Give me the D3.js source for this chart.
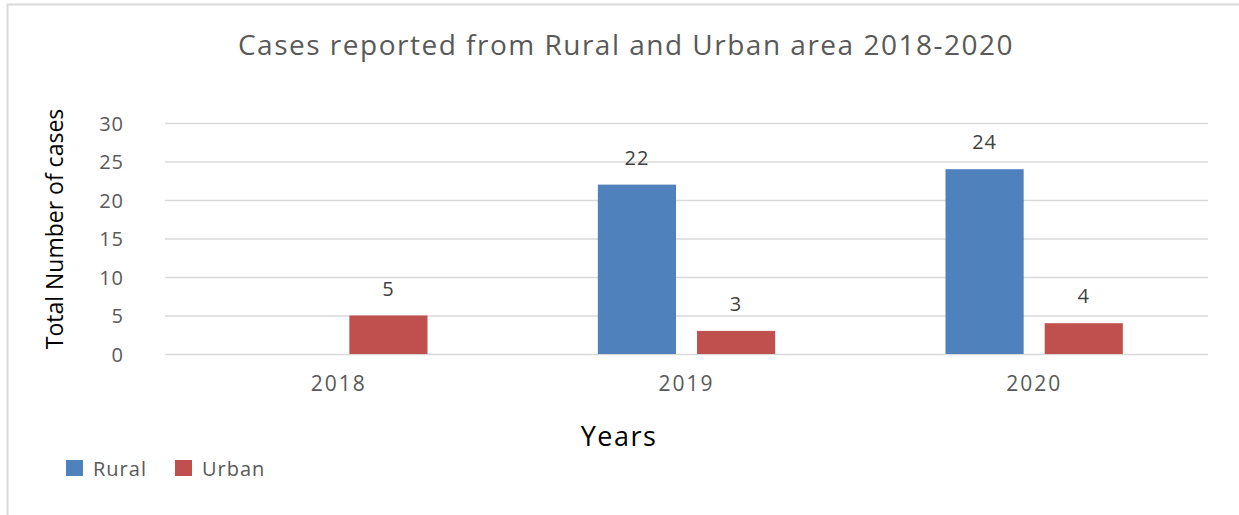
<!DOCTYPE html>
<html>
<head>
<meta charset="utf-8">
<script src="https://cdn.jsdelivr.net/npm/d3@7"></script>
<style>
  html, body { margin: 0; padding: 0; background: #fff; }
  svg { display: block; font-family: "Open Sans", "Noto Sans", sans-serif; }
  svg text { font-family: "Open Sans", "Noto Sans", sans-serif; }
</style>
</head>
<body>
<div id="chart"></div>
<script>
const years = ["2018", "2019", "2020"];
const seriesNames = ["Rural", "Urban"];
const rural = [0, 22, 24];
const urban = [5, 3, 4];
const yTicks = [0, 5, 10, 15, 20, 25, 30];

const colors = { Rural: "#4f81bd", Urban: "#c0504d" };

const width = 1239, height = 515;
const margin = { top: 123, right: 31, bottom: 161, left: 165 };
const innerWidth = width - margin.left - margin.right;
const innerHeight = height - margin.top - margin.bottom;

const rows = years.map((y, i) => ({ year: y, Rural: rural[i], Urban: urban[i] }));

const root = d3.select("#chart").append("svg")
    .attr("width", width).attr("height", height);

// frame (only top and left edges show in the picture)
root.append("line").attr("x1", 7).attr("x2", width).attr("y1", 4.5).attr("y2", 4.5)
    .attr("stroke", "#d9d9d9").attr("stroke-width", 2);
root.append("line").attr("x1", 7.5).attr("x2", 7.5).attr("y1", 4).attr("y2", height)
    .attr("stroke", "#d9d9d9").attr("stroke-width", 2);

const svg = root.append("g").attr("transform", `translate(${margin.left},${margin.top})`);

const x0 = d3.scaleBand().domain(years).range([0, innerWidth])
    .paddingInner(0.49).paddingOuter(0.245);
const x1 = d3.scaleBand().domain(seriesNames).range([0, x0.bandwidth()]).paddingInner(0.212);
const y = d3.scaleLinear().domain([0, 30]).range([innerHeight, 0]);

// Gridlines
svg.append("g")
    .call(d3.axisLeft(y).tickValues(yTicks).tickSize(-innerWidth).tickFormat(""))
    .call(g => g.select(".domain").remove())
    .call(g => g.selectAll("text").remove())
    .call(g => g.selectAll("line").attr("stroke", "#d9d9d9").attr("stroke-width", 1.6));

// Y tick labels
svg.append("g")
    .call(d3.axisLeft(y).tickValues(yTicks).tickSize(0).tickPadding(41))
    .call(g => g.select(".domain").remove())
    .call(g => g.selectAll("text").attr("fill", "#595959").style("font-size", "20px")
        .style("letter-spacing", "1px").attr("dy", "0.36em"));

// X tick labels
const xBand = d3.scaleBand().domain(years).range([0, innerWidth]);
svg.append("g").attr("transform", `translate(0,${innerHeight})`)
    .call(d3.axisBottom(xBand).tickSize(0).tickPadding(22))
    .call(g => g.select(".domain").remove())
    .call(g => g.selectAll("text").attr("fill", "#595959").style("font-size", "21px")
        .style("letter-spacing", "2px"));

// Bars
const groups = svg.selectAll(".year").data(rows).enter().append("g")
    .attr("transform", d => `translate(${x0(d.year)},0)`);

groups.selectAll("rect")
    .data(d => seriesNames.map(s => ({ key: s, value: d[s] })).filter(d => d.value > 0))
    .enter().append("rect")
    .attr("x", d => x1(d.key))
    .attr("y", d => y(d.value))
    .attr("width", x1.bandwidth())
    .attr("height", d => innerHeight - y(d.value))
    .attr("fill", d => colors[d.key]);

groups.selectAll(".val")
    .data(d => seriesNames.map(s => ({ key: s, value: d[s] })).filter(d => d.value > 0))
    .enter().append("text")
    .attr("x", d => x1(d.key) + x1.bandwidth() / 2)
    .attr("y", d => y(d.value) - 20)
    .attr("text-anchor", "middle")
    .attr("fill", "#404040")
    .style("font-size", "20px")
    .style("letter-spacing", "1px")
    .text(d => d.value);

// Titles
root.append("text")
    .attr("x", 626).attr("y", 55)
    .attr("text-anchor", "middle")
    .attr("fill", "#595959")
    .style("font-size", "28px")
    .style("letter-spacing", "1.5px")
    .text("Cases reported from Rural and Urban area 2018-2020");

root.append("text")
    .attr("transform", "translate(63,229) rotate(-90)")
    .attr("text-anchor", "middle")
    .attr("fill", "#000")
    .style("font-size", "23px")
    .text("Total Number of cases");

root.append("text")
    .attr("x", 619).attr("y", 446)
    .attr("text-anchor", "middle")
    .attr("fill", "#000")
    .style("font-size", "27px")
    .style("letter-spacing", "1.5px")
    .text("Years");

// Legend
const legendX = [66, 175];
const legend = root.selectAll(".legend").data(seriesNames).enter().append("g")
    .attr("transform", (d, i) => `translate(${legendX[i]},460)`);
legend.append("rect").attr("width", 17).attr("height", 16).attr("fill", d => colors[d]);
legend.append("text").attr("x", 27).attr("y", 16)
    .attr("fill", "#595959").style("font-size", "20px")
    .style("letter-spacing", "1px")
    .text(d => d);
</script>
</body>
</html>
